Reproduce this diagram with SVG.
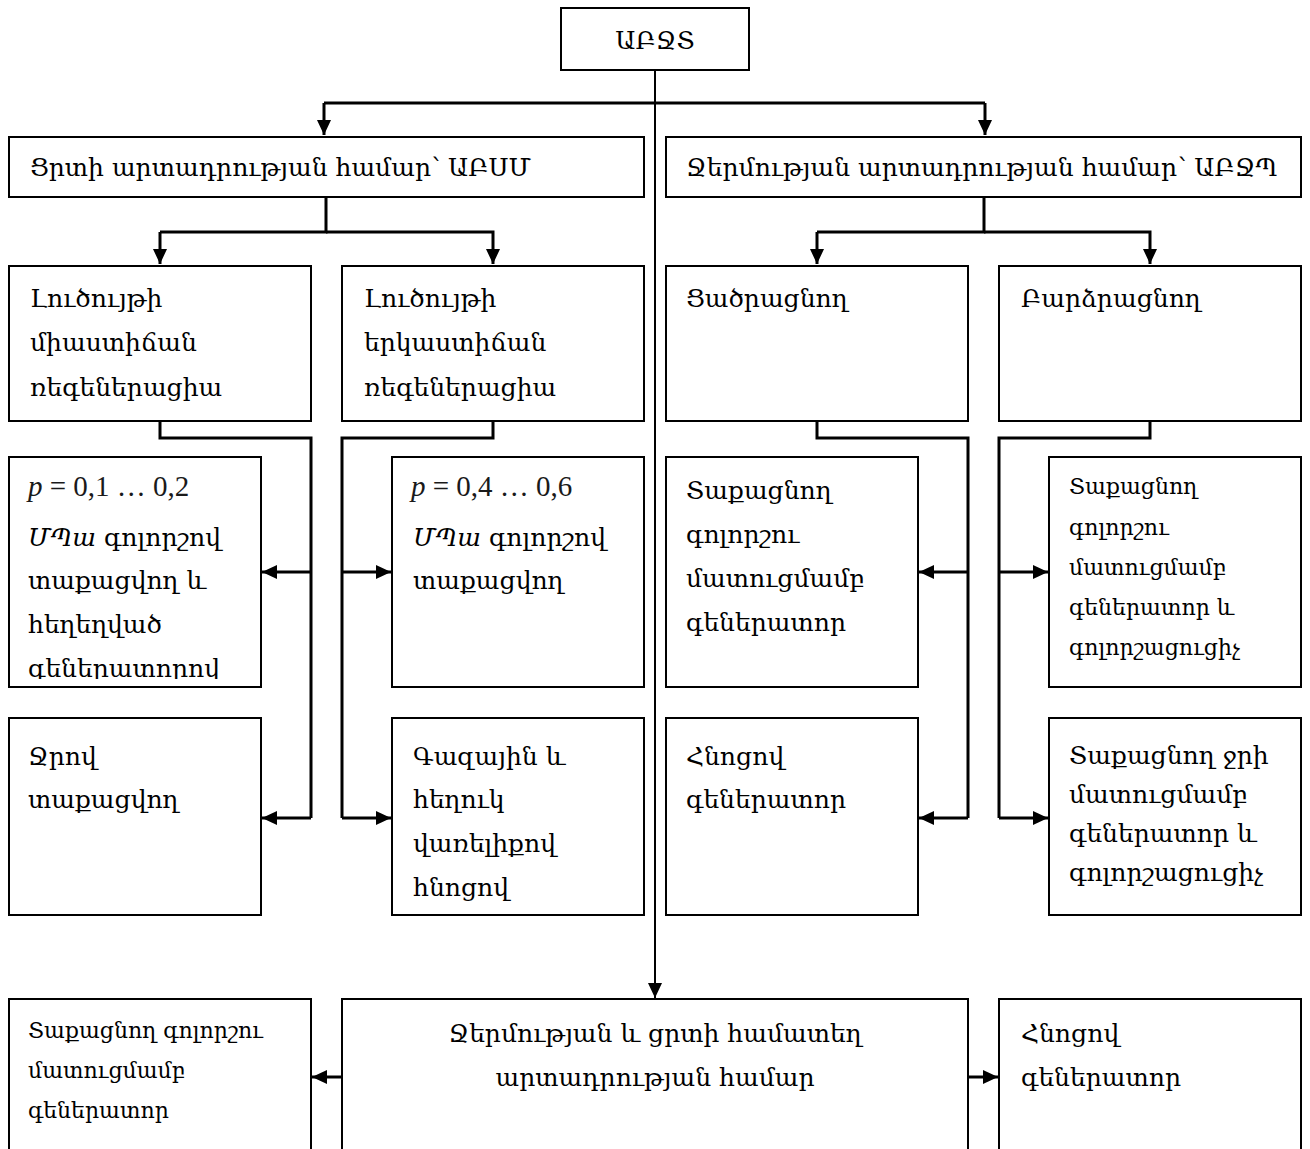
<svg xmlns="http://www.w3.org/2000/svg" width="1310" height="1149" viewBox="0 0 1310 1149">
<style>
.box{fill:#fff;stroke:#000;stroke-width:2}
.t{font-family:"DejaVu Serif",serif;font-size:25px;fill:#000}
.s{font-family:"DejaVu Serif",serif;font-size:22px;fill:#000}
.m{font-family:"Liberation Serif","DejaVu Serif",serif;font-size:29px;fill:#1a1a1a}
.c{fill:none;stroke:#000;stroke-width:3}
.c2{fill:none;stroke:#000;stroke-width:2}
</style>
<defs>
<marker id="ah" markerUnits="userSpaceOnUse" markerWidth="16" markerHeight="14" refX="15" refY="7" orient="auto">
<path d="M0,0 L15,7 L0,14 z" fill="#000"/>
</marker>
<clipPath id="clipA"><rect x="9" y="457" width="252" height="222"/></clipPath>
</defs>
<g id="connectors">
<path class="c2" d="M655,70 V998" marker-end="url(#ah)"/>
<path class="c" d="M324,103 H985"/>
<path class="c" d="M324,103 V135" marker-end="url(#ah)"/>
<path class="c" d="M985,103 V135" marker-end="url(#ah)"/>
<path class="c" d="M326,197 V232 H160"/>
<path class="c" d="M160,232 V264" marker-end="url(#ah)"/>
<path class="c" d="M326,232 H493 V264" marker-end="url(#ah)"/>
<path class="c" d="M984,197 V232 H817"/>
<path class="c" d="M817,232 V264" marker-end="url(#ah)"/>
<path class="c" d="M984,232 H1150 V264" marker-end="url(#ah)"/>
<path class="c" d="M160,421 V438 H311 V818"/>
<path class="c" d="M311,572 H262" marker-end="url(#ah)"/>
<path class="c" d="M311,818 H262" marker-end="url(#ah)"/>
<path class="c" d="M493,421 V438 H342 V818"/>
<path class="c" d="M342,572 H391" marker-end="url(#ah)"/>
<path class="c" d="M342,818 H391" marker-end="url(#ah)"/>
<path class="c" d="M817,421 V438 H968 V818"/>
<path class="c" d="M968,572 H919" marker-end="url(#ah)"/>
<path class="c" d="M968,818 H919" marker-end="url(#ah)"/>
<path class="c" d="M1150,421 V438 H999 V818"/>
<path class="c" d="M999,572 H1048" marker-end="url(#ah)"/>
<path class="c" d="M999,818 H1048" marker-end="url(#ah)"/>
<path class="c" d="M342,1077 H312" marker-end="url(#ah)"/>
<path class="c" d="M968,1077 H998" marker-end="url(#ah)"/>
</g>
<g id="n-root">
<rect class="box" x="561" y="8" width="188" height="62"/>
<text class="t" x="655" y="49" text-anchor="middle">ԱԲՋՏ</text>
</g>
<g id="n-cold">
<rect class="box" x="9" y="137" width="635" height="60"/>
<text class="t" x="30" y="176">Ցրտի արտադրության համար՝ ԱԲՍՄ</text>
</g>
<g id="n-heat">
<rect class="box" x="666" y="137" width="635" height="60"/>
<text class="t" x="686" y="176">Ջերմության արտադրության համար՝ ԱԲՋՊ</text>
</g>
<g id="n-single">
<rect class="box" x="9" y="266" width="302" height="155"/>
<text class="t" x="30" y="307">Լուծույթի</text>
<text class="t" x="30" y="351">միաստիճան</text>
<text class="t" x="30" y="396">ռեգեներացիա</text>
</g>
<g id="n-double">
<rect class="box" x="342" y="266" width="302" height="155"/>
<text class="t" x="364" y="307">Լուծույթի</text>
<text class="t" x="364" y="351">երկաստիճան</text>
<text class="t" x="364" y="396">ռեգեներացիա</text>
</g>
<g id="n-lower">
<rect class="box" x="666" y="266" width="302" height="155"/>
<text class="t" x="686" y="307">Ցածրացնող</text>
</g>
<g id="n-raise">
<rect class="box" x="999" y="266" width="302" height="155"/>
<text class="t" x="1021" y="307">Բարձրացնող</text>
</g>
<g id="n-p1">
<rect class="box" x="9" y="457" width="252" height="230"/>
<text class="m" x="28" y="496"><tspan font-style="italic">p</tspan> = 0,1 … 0,2</text>
<text class="t" x="28" y="546"><tspan font-style="italic">ՄՊա</tspan> գոլորշով</text>
<text class="t" x="28" y="589">տաքացվող և</text>
<text class="t" x="28" y="633">հեղեղված</text>
<text class="t" x="28" y="677" clip-path="url(#clipA)">գեներատորով</text>
</g>
<g id="n-p2">
<rect class="box" x="392" y="457" width="252" height="230"/>
<text class="m" x="411" y="496"><tspan font-style="italic">p</tspan> = 0,4 … 0,6</text>
<text class="t" x="413" y="546"><tspan font-style="italic">ՄՊա</tspan> գոլորշով</text>
<text class="t" x="413" y="589">տաքացվող</text>
</g>
<g id="n-steam-gen">
<rect class="box" x="666" y="457" width="252" height="230"/>
<text class="t" x="686" y="499">Տաքացնող</text>
<text class="t" x="686" y="543">գոլորշու</text>
<text class="t" x="686" y="587">մատուցմամբ</text>
<text class="t" x="686" y="631">գեներատոր</text>
</g>
<g id="n-steam-gen-evap">
<rect class="box" x="1049" y="457" width="252" height="230"/>
<text class="s" x="1069" y="494">Տաքացնող</text>
<text class="s" x="1069" y="535">գոլորշու</text>
<text class="s" x="1069" y="575">մատուցմամբ</text>
<text class="s" x="1069" y="615">գեներատոր և</text>
<text class="s" x="1069" y="655">գոլորշացուցիչ</text>
</g>
<g id="n-water">
<rect class="box" x="9" y="718" width="252" height="197"/>
<text class="t" x="28" y="765">Ջրով</text>
<text class="t" x="28" y="808">տաքացվող</text>
</g>
<g id="n-gas">
<rect class="box" x="392" y="718" width="252" height="197"/>
<text class="t" x="413" y="765">Գազային և</text>
<text class="t" x="413" y="808">հեղուկ</text>
<text class="t" x="413" y="852">վառելիքով</text>
<text class="t" x="413" y="896">հնոցով</text>
</g>
<g id="n-furnace1">
<rect class="box" x="666" y="718" width="252" height="197"/>
<text class="t" x="686" y="765">Հնոցով</text>
<text class="t" x="686" y="808">գեներատոր</text>
</g>
<g id="n-water-gen">
<rect class="box" x="1049" y="718" width="252" height="197"/>
<text class="t" x="1069" y="764">Տաքացնող ջրի</text>
<text class="t" x="1069" y="803">մատուցմամբ</text>
<text class="t" x="1069" y="842">գեներատոր և</text>
<text class="t" x="1069" y="881">գոլորշացուցիչ</text>
</g>
<g id="n-steam-bottom">
<rect class="box" x="9" y="999" width="302" height="160"/>
<text class="s" x="28" y="1038">Տաքացնող գոլորշու</text>
<text class="s" x="28" y="1078">մատուցմամբ</text>
<text class="s" x="28" y="1118">գեներատոր</text>
</g>
<g id="n-combined">
<rect class="box" x="342" y="999" width="626" height="160"/>
<text class="t" x="655" y="1042" text-anchor="middle">Ջերմության և ցրտի համատեղ</text>
<text class="t" x="655" y="1086" text-anchor="middle">արտադրության համար</text>
</g>
<g id="n-furnace2">
<rect class="box" x="999" y="999" width="302" height="160"/>
<text class="t" x="1021" y="1042">Հնոցով</text>
<text class="t" x="1021" y="1086">գեներատոր</text>
</g>
</svg>
